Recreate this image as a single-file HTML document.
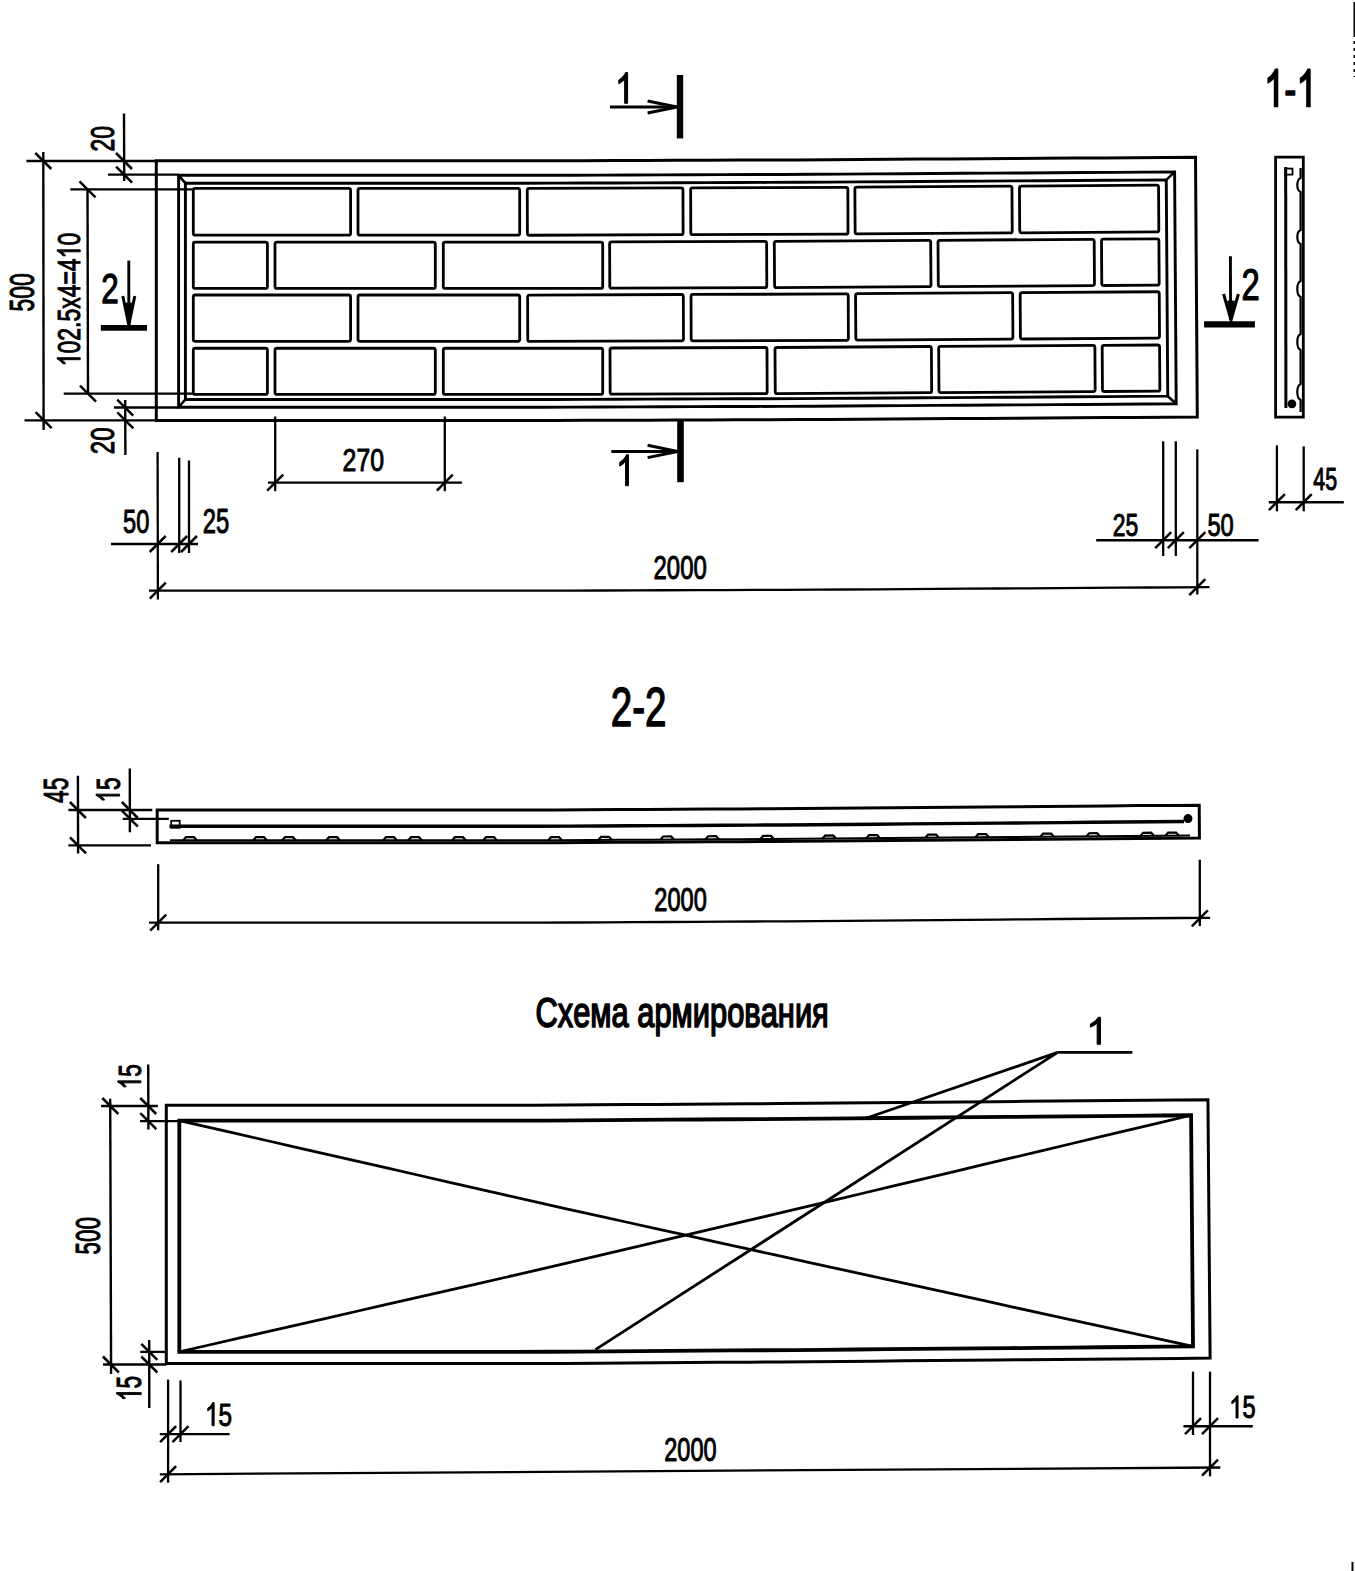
<!DOCTYPE html>
<html><head><meta charset="utf-8"><style>
html,body{margin:0;padding:0;background:#fff;}
svg{display:block;}
text{font-family:"Liberation Sans",sans-serif;fill:#000;}
</style></head><body>
<svg width="1355" height="1571" viewBox="0 0 1355 1571" stroke="#000" fill="none">
<rect x="0" y="0" width="1355" height="1571" fill="#fff" stroke="none"/>
<path d="M156.30,160.80 L186.89,160.80 L217.48,160.80 L248.07,160.80 L278.66,160.80 L309.26,160.80 L339.85,160.80 L370.44,160.80 L401.03,160.80 L431.62,160.80 L462.21,160.80 L492.80,160.80 L523.39,160.80 L553.54,160.75 L584.13,160.65 L614.72,160.54 L645.31,160.43 L675.90,160.33 L706.49,160.22 L737.09,160.12 L767.68,160.01 L798.20,159.90 L828.46,159.71 L859.05,159.51 L889.64,159.31 L920.23,159.10 L950.82,158.90 L981.41,158.70 L1012.00,158.50 L1042.60,158.30 L1073.19,158.10 L1103.78,157.90 L1134.35,157.70 L1164.93,157.49 L1195.52,157.28 L1195.74,189.74 L1195.96,222.21 L1196.18,254.67 L1196.40,287.13 L1196.63,319.59 L1196.85,352.06 L1197.07,384.52 L1197.29,416.98 L1166.70,417.19 L1136.09,417.40 L1105.48,417.60 L1074.89,417.80 L1044.30,418.00 L1013.71,418.20 L983.12,418.40 L952.53,418.60 L921.94,418.80 L891.35,419.01 L860.75,419.21 L830.16,419.41 L799.24,419.60 L768.58,419.71 L737.98,419.82 L707.39,419.92 L676.80,420.03 L646.21,420.13 L615.62,420.24 L585.03,420.35 L554.44,420.45 L523.39,420.50 L492.80,420.50 L462.21,420.50 L431.62,420.50 L401.03,420.50 L370.44,420.50 L339.85,420.50 L309.26,420.50 L278.66,420.50 L248.07,420.50 L217.48,420.50 L186.89,420.50 L156.30,420.50 L156.30,388.04 L156.30,355.57 L156.30,323.11 L156.30,290.65 L156.30,258.19 L156.30,225.73 L156.30,193.26 Z" stroke-width="3.0" fill="none" stroke-linejoin="miter"/>
<path d="M178.60,175.30 L208.81,175.30 L239.01,175.30 L269.22,175.30 L299.42,175.30 L329.63,175.30 L359.84,175.30 L390.04,175.30 L420.25,175.30 L450.45,175.30 L480.66,175.30 L510.87,175.30 L540.77,175.30 L570.88,175.19 L601.09,175.09 L631.29,174.98 L661.50,174.88 L691.71,174.77 L721.91,174.67 L752.12,174.56 L782.32,174.46 L812.17,174.32 L842.38,174.12 L872.59,173.92 L902.79,173.72 L933.00,173.52 L963.20,173.32 L993.41,173.12 L1023.62,172.93 L1053.82,172.73 L1084.03,172.53 L1114.23,172.33 L1144.41,172.13 L1174.62,171.92 L1174.84,205.05 L1175.07,238.18 L1175.30,271.31 L1175.52,304.44 L1175.75,337.57 L1175.97,370.70 L1176.20,403.82 L1145.99,404.03 L1115.76,404.23 L1085.55,404.43 L1055.35,404.63 L1025.14,404.83 L994.93,405.02 L964.73,405.22 L934.52,405.42 L904.32,405.62 L874.11,405.82 L843.90,406.02 L813.70,406.22 L783.13,406.36 L752.92,406.46 L722.71,406.57 L692.51,406.67 L662.30,406.78 L632.10,406.88 L601.89,406.99 L571.68,407.09 L541.38,407.20 L510.87,407.20 L480.66,407.20 L450.45,407.20 L420.25,407.20 L390.04,407.20 L359.84,407.20 L329.63,407.20 L299.42,407.20 L269.22,407.20 L239.01,407.20 L208.81,407.20 L178.60,407.20 L178.60,374.07 L178.60,340.94 L178.60,307.81 L178.60,274.69 L178.60,241.56 L178.60,208.43 Z" stroke-width="2.9" fill="none" stroke-linejoin="miter"/>
<path d="M185.40,183.20 L216.08,183.20 L246.75,183.20 L277.43,183.20 L308.10,183.20 L338.77,183.20 L369.45,183.20 L400.12,183.20 L430.80,183.20 L461.48,183.20 L492.15,183.20 L522.83,183.20 L553.13,183.15 L583.81,183.05 L614.48,182.94 L645.16,182.83 L675.83,182.73 L706.51,182.62 L737.18,182.52 L767.86,182.41 L798.46,182.30 L828.87,182.11 L859.55,181.90 L890.22,181.70 L920.90,181.50 L951.57,181.30 L982.25,181.10 L1012.92,180.90 L1043.60,180.70 L1074.27,180.49 L1104.95,180.29 L1135.60,180.09 L1166.27,179.88 L1166.48,210.78 L1166.69,241.68 L1166.90,272.58 L1167.11,303.48 L1167.33,334.38 L1167.54,365.28 L1167.75,396.18 L1137.07,396.39 L1106.37,396.59 L1075.69,396.79 L1045.02,397.00 L1014.34,397.20 L983.67,397.40 L952.99,397.60 L922.32,397.80 L891.64,398.00 L860.97,398.20 L830.29,398.41 L799.36,398.60 L768.60,398.71 L737.93,398.82 L707.25,398.92 L676.58,399.03 L645.90,399.13 L615.23,399.24 L584.55,399.35 L553.88,399.45 L522.82,399.50 L492.15,399.50 L461.48,399.50 L430.80,399.50 L400.12,399.50 L369.45,399.50 L338.77,399.50 L308.10,399.50 L277.42,399.50 L246.75,399.50 L216.07,399.50 L185.40,399.50 L185.40,368.60 L185.40,337.70 L185.40,306.80 L185.40,275.90 L185.40,245.00 L185.40,214.10 Z" stroke-width="2.9" fill="none" stroke-linejoin="miter"/>
<path d="M178.60,175.30 L185.40,183.20" stroke-width="2.6" stroke-linecap="butt"/>
<path d="M1174.62,171.92 L1166.27,179.88" stroke-width="2.6" stroke-linecap="butt"/>
<path d="M178.60,407.20 L185.40,399.50" stroke-width="2.6" stroke-linecap="butt"/>
<path d="M1176.20,403.82 L1167.75,396.18" stroke-width="2.6" stroke-linecap="butt"/>
<rect x="193.30" y="188.40" width="157.30" height="46.80" rx="2.0" stroke-width="2.8" fill="none" transform="translate(0.00,0.00) rotate(0.000 271.95 211.80)"/>
<rect x="358.00" y="188.40" width="161.70" height="46.80" rx="2.0" stroke-width="2.8" fill="none" transform="translate(0.00,0.00) rotate(0.000 438.85 211.80)"/>
<rect x="527.60" y="188.40" width="155.70" height="46.80" rx="2.0" stroke-width="2.8" fill="none" transform="translate(-0.27,-0.23) rotate(-0.198 605.45 211.80)"/>
<rect x="691.00" y="188.40" width="157.20" height="46.80" rx="2.0" stroke-width="2.8" fill="none" transform="translate(-0.27,-0.79) rotate(-0.198 769.60 211.80)"/>
<rect x="855.50" y="188.40" width="157.10" height="46.80" rx="2.0" stroke-width="2.8" fill="none" transform="translate(-0.51,-1.78) rotate(-0.376 934.05 211.80)"/>
<rect x="1020.10" y="188.40" width="139.10" height="46.80" rx="2.0" stroke-width="2.8" fill="none" transform="translate(-0.51,-2.80) rotate(-0.376 1089.65 211.80)"/>
<rect x="193.30" y="242.10" width="74.10" height="46.30" rx="2.0" stroke-width="2.8" fill="none" transform="translate(0.00,0.00) rotate(0.000 230.35 265.25)"/>
<rect x="275.00" y="242.10" width="160.30" height="46.30" rx="2.0" stroke-width="2.8" fill="none" transform="translate(0.00,0.00) rotate(0.000 355.15 265.25)"/>
<rect x="443.30" y="242.10" width="159.40" height="46.30" rx="2.0" stroke-width="2.8" fill="none" transform="translate(0.00,0.00) rotate(0.000 523.00 265.25)"/>
<rect x="609.80" y="242.10" width="157.00" height="46.30" rx="2.0" stroke-width="2.8" fill="none" transform="translate(-0.09,-0.51) rotate(-0.198 688.30 265.25)"/>
<rect x="774.60" y="242.10" width="156.40" height="46.30" rx="2.0" stroke-width="2.8" fill="none" transform="translate(-0.16,-1.25) rotate(-0.376 852.80 265.25)"/>
<rect x="938.30" y="242.10" width="156.20" height="46.30" rx="2.0" stroke-width="2.8" fill="none" transform="translate(-0.16,-2.32) rotate(-0.376 1016.40 265.25)"/>
<rect x="1101.80" y="242.10" width="57.40" height="46.30" rx="2.0" stroke-width="2.8" fill="none" transform="translate(-0.16,-3.07) rotate(-0.376 1130.50 265.25)"/>
<rect x="193.30" y="295.00" width="157.30" height="46.35" rx="2.0" stroke-width="2.8" fill="none" transform="translate(0.00,0.00) rotate(0.000 271.95 318.18)"/>
<rect x="358.00" y="295.00" width="161.70" height="46.35" rx="2.0" stroke-width="2.8" fill="none" transform="translate(0.00,0.00) rotate(0.000 438.85 318.18)"/>
<rect x="527.60" y="295.00" width="155.70" height="46.35" rx="2.0" stroke-width="2.8" fill="none" transform="translate(0.10,-0.23) rotate(-0.198 605.45 318.18)"/>
<rect x="691.00" y="295.00" width="157.20" height="46.35" rx="2.0" stroke-width="2.8" fill="none" transform="translate(0.10,-0.79) rotate(-0.198 769.60 318.18)"/>
<rect x="855.50" y="295.00" width="157.10" height="46.35" rx="2.0" stroke-width="2.8" fill="none" transform="translate(0.19,-1.78) rotate(-0.376 934.05 318.18)"/>
<rect x="1020.10" y="295.00" width="139.10" height="46.35" rx="2.0" stroke-width="2.8" fill="none" transform="translate(0.19,-2.80) rotate(-0.376 1089.65 318.18)"/>
<rect x="193.30" y="348.25" width="74.10" height="46.15" rx="2.0" stroke-width="2.8" fill="none" transform="translate(0.00,0.00) rotate(0.000 230.35 371.32)"/>
<rect x="275.00" y="348.25" width="160.30" height="46.15" rx="2.0" stroke-width="2.8" fill="none" transform="translate(0.00,0.00) rotate(0.000 355.15 371.32)"/>
<rect x="443.30" y="348.25" width="159.40" height="46.15" rx="2.0" stroke-width="2.8" fill="none" transform="translate(0.00,0.00) rotate(0.000 523.00 371.32)"/>
<rect x="609.80" y="348.25" width="157.00" height="46.15" rx="2.0" stroke-width="2.8" fill="none" transform="translate(0.28,-0.51) rotate(-0.198 688.30 371.32)"/>
<rect x="774.60" y="348.25" width="156.40" height="46.15" rx="2.0" stroke-width="2.8" fill="none" transform="translate(0.53,-1.25) rotate(-0.376 852.80 371.32)"/>
<rect x="938.30" y="348.25" width="156.20" height="46.15" rx="2.0" stroke-width="2.8" fill="none" transform="translate(0.53,-2.32) rotate(-0.376 1016.40 371.32)"/>
<rect x="1101.80" y="348.25" width="57.40" height="46.15" rx="2.0" stroke-width="2.8" fill="none" transform="translate(0.53,-3.07) rotate(-0.376 1130.50 371.32)"/>
<path d="M149.00,590.70 L179.24,590.70 L209.49,590.70 L239.73,590.70 L269.97,590.70 L300.21,590.70 L330.46,590.70 L360.70,590.70 L390.94,590.70 L421.19,590.70 L451.43,590.70 L481.67,590.70 L511.91,590.70 L543.20,590.69 L573.44,590.59 L603.68,590.48 L633.93,590.38 L664.17,590.27 L694.41,590.17 L724.66,590.06 L754.90,589.96 L785.14,589.86 L816.32,589.71 L846.56,589.51 L876.80,589.31 L907.05,589.11 L937.29,588.91 L967.53,588.71 L997.77,588.51 L1028.02,588.32 L1058.26,588.12 L1088.50,587.92 L1118.75,587.72 L1149.06,587.52 L1179.31,587.31 L1209.55,587.11" stroke-width="2.3" stroke-linecap="butt"/>
<line x1="43.30" y1="152.10" x2="43.60" y2="430.00" stroke-width="2.4" stroke-linecap="butt"/>
<line x1="26.40" y1="161.00" x2="156.00" y2="161.00" stroke-width="2.3" stroke-linecap="butt"/>
<line x1="24.50" y1="420.30" x2="156.00" y2="420.30" stroke-width="2.3" stroke-linecap="butt"/>
<line x1="35.30" y1="153.00" x2="51.30" y2="169.00" stroke-width="2.5" stroke-linecap="butt"/>
<line x1="35.60" y1="412.20" x2="51.60" y2="428.20" stroke-width="2.5" stroke-linecap="butt"/>
<g transform="translate(33.51,311.46) rotate(-90) scale(0.2281,0.3423)"><text x="0.00" y="0" font-size="100" font-weight="normal" stroke="#000" stroke-width="0.9" vector-effect="non-scaling-stroke" stroke-linejoin="round">5</text><text x="55.62" y="0" font-size="100" font-weight="normal" stroke="#000" stroke-width="0.9" vector-effect="non-scaling-stroke" stroke-linejoin="round">0</text><text x="111.23" y="0" font-size="100" font-weight="normal" stroke="#000" stroke-width="0.9" vector-effect="non-scaling-stroke" stroke-linejoin="round">0</text></g>
<line x1="87.50" y1="189.30" x2="88.00" y2="393.60" stroke-width="2.4" stroke-linecap="butt"/>
<line x1="70.30" y1="189.30" x2="193.00" y2="189.30" stroke-width="2.3" stroke-linecap="butt"/>
<line x1="63.70" y1="393.60" x2="193.00" y2="393.60" stroke-width="2.3" stroke-linecap="butt"/>
<line x1="79.50" y1="181.30" x2="95.50" y2="197.30" stroke-width="2.5" stroke-linecap="butt"/>
<line x1="80.00" y1="385.60" x2="96.00" y2="401.60" stroke-width="2.5" stroke-linecap="butt"/>
<g transform="translate(80.23,366.25) rotate(-90) scale(0.2296,0.3214)"><path transform="translate(0.00,0)" d="M37.3,0 L28.5,0 L28.5,-56.2 C25.5,-53.4 21.4,-50.5 17,-48.3 C14.6,-47.1 12.6,-46.2 10.9,-45.6 L10.9,-54.2 C15.6,-56.4 19.8,-59.2 23.4,-62.5 C27,-65.7 29.6,-68.8 31.1,-71.8 L37.3,-71.8 Z" fill="#000" stroke="#000" stroke-width="0.9" vector-effect="non-scaling-stroke" stroke-linejoin="round"/><text x="55.62" y="0" font-size="100" font-weight="normal" stroke="#000" stroke-width="0.9" vector-effect="non-scaling-stroke" stroke-linejoin="round">0</text><text x="111.23" y="0" font-size="100" font-weight="normal" stroke="#000" stroke-width="0.9" vector-effect="non-scaling-stroke" stroke-linejoin="round">2</text><text x="166.85" y="0" font-size="100" font-weight="normal" stroke="#000" stroke-width="0.9" vector-effect="non-scaling-stroke" stroke-linejoin="round">.</text><text x="194.63" y="0" font-size="100" font-weight="normal" stroke="#000" stroke-width="0.9" vector-effect="non-scaling-stroke" stroke-linejoin="round">5</text><text x="250.25" y="0" font-size="100" font-weight="normal" stroke="#000" stroke-width="0.9" vector-effect="non-scaling-stroke" stroke-linejoin="round">x</text><text x="300.25" y="0" font-size="100" font-weight="normal" stroke="#000" stroke-width="0.9" vector-effect="non-scaling-stroke" stroke-linejoin="round">4</text><text x="355.87" y="0" font-size="100" font-weight="normal" stroke="#000" stroke-width="0.9" vector-effect="non-scaling-stroke" stroke-linejoin="round">=</text><text x="414.27" y="0" font-size="100" font-weight="normal" stroke="#000" stroke-width="0.9" vector-effect="non-scaling-stroke" stroke-linejoin="round">4</text><path transform="translate(469.88,0)" d="M37.3,0 L28.5,0 L28.5,-56.2 C25.5,-53.4 21.4,-50.5 17,-48.3 C14.6,-47.1 12.6,-46.2 10.9,-45.6 L10.9,-54.2 C15.6,-56.4 19.8,-59.2 23.4,-62.5 C27,-65.7 29.6,-68.8 31.1,-71.8 L37.3,-71.8 Z" fill="#000" stroke="#000" stroke-width="0.9" vector-effect="non-scaling-stroke" stroke-linejoin="round"/><text x="525.50" y="0" font-size="100" font-weight="normal" stroke="#000" stroke-width="0.9" vector-effect="non-scaling-stroke" stroke-linejoin="round">0</text></g>
<line x1="124.00" y1="113.60" x2="124.20" y2="181.00" stroke-width="2.4" stroke-linecap="butt"/>
<line x1="108.00" y1="174.60" x2="178.60" y2="174.60" stroke-width="2.3" stroke-linecap="butt"/>
<line x1="116.00" y1="153.00" x2="132.00" y2="169.00" stroke-width="2.5" stroke-linecap="butt"/>
<line x1="116.10" y1="166.60" x2="132.10" y2="182.60" stroke-width="2.5" stroke-linecap="butt"/>
<g transform="translate(113.71,151.49) rotate(-90) scale(0.2282,0.3366)"><text x="0.00" y="0" font-size="100" font-weight="normal" stroke="#000" stroke-width="0.9" vector-effect="non-scaling-stroke" stroke-linejoin="round">2</text><text x="55.62" y="0" font-size="100" font-weight="normal" stroke="#000" stroke-width="0.9" vector-effect="non-scaling-stroke" stroke-linejoin="round">0</text></g>
<line x1="125.20" y1="400.00" x2="125.40" y2="455.00" stroke-width="2.4" stroke-linecap="butt"/>
<line x1="114.00" y1="407.50" x2="178.60" y2="407.50" stroke-width="2.3" stroke-linecap="butt"/>
<line x1="117.20" y1="399.60" x2="133.20" y2="415.60" stroke-width="2.5" stroke-linecap="butt"/>
<line x1="117.30" y1="412.30" x2="133.30" y2="428.30" stroke-width="2.5" stroke-linecap="butt"/>
<g transform="translate(114.21,454.25) rotate(-90) scale(0.2409,0.3394)"><text x="0.00" y="0" font-size="100" font-weight="normal" stroke="#000" stroke-width="0.9" vector-effect="non-scaling-stroke" stroke-linejoin="round">2</text><text x="55.62" y="0" font-size="100" font-weight="normal" stroke="#000" stroke-width="0.9" vector-effect="non-scaling-stroke" stroke-linejoin="round">0</text></g>
<g transform="translate(101.18,303.45) scale(0.3143,0.4343)"><text x="0.00" y="0" font-size="100" font-weight="normal" stroke="#000" stroke-width="1.1" vector-effect="non-scaling-stroke" stroke-linejoin="round">2</text></g>
<line x1="128.80" y1="260.60" x2="128.80" y2="326.00" stroke-width="2.9" stroke-linecap="butt"/>
<path d="M122.80,296.00 L128.80,325.00 L134.80,296.00" stroke-width="3.0" fill="none" stroke-linejoin="miter"/>
<path d="M125.5,303 L128.8,321 L132,303 Z" stroke-width="0.8" fill="#000"/>
<line x1="100.80" y1="327.80" x2="147.00" y2="327.80" stroke-width="5.8" stroke-linecap="butt"/>
<g transform="translate(1241.41,300.25) scale(0.3275,0.4400)"><text x="0.00" y="0" font-size="100" font-weight="normal" stroke="#000" stroke-width="1.1" vector-effect="non-scaling-stroke" stroke-linejoin="round">2</text></g>
<line x1="1230.40" y1="256.20" x2="1230.60" y2="320.00" stroke-width="2.9" stroke-linecap="butt"/>
<path d="M1223.60,294.00 L1231.00,320.00 L1238.40,294.00" stroke-width="3.0" fill="none" stroke-linejoin="miter"/>
<path d="M1227.5,301 L1231,317 L1234.5,301 Z" stroke-width="0.8" fill="#000"/>
<line x1="1204.10" y1="324.40" x2="1254.90" y2="324.40" stroke-width="6.4" stroke-linecap="butt"/>
<g transform="translate(615.17,103.30) scale(0.3333,0.4290)"><path transform="translate(0.00,0)" d="M37.3,0 L28.5,0 L28.5,-56.2 C25.5,-53.4 21.4,-50.5 17,-48.3 C14.6,-47.1 12.6,-46.2 10.9,-45.6 L10.9,-54.2 C15.6,-56.4 19.8,-59.2 23.4,-62.5 C27,-65.7 29.6,-68.8 31.1,-71.8 L37.3,-71.8 Z" fill="#000" stroke="#000" stroke-width="1.0" vector-effect="non-scaling-stroke" stroke-linejoin="round"/></g>
<line x1="610.00" y1="107.00" x2="678.00" y2="107.00" stroke-width="2.8" stroke-linecap="butt"/>
<path d="M647.60,101.00 L677.00,107.00 L647.60,113.00" stroke-width="3.0" fill="none" stroke-linejoin="miter"/>
<line x1="680.00" y1="75.00" x2="680.00" y2="138.40" stroke-width="6.4" stroke-linecap="butt"/>
<g transform="translate(616.07,485.70) scale(0.3333,0.4304)"><path transform="translate(0.00,0)" d="M37.3,0 L28.5,0 L28.5,-56.2 C25.5,-53.4 21.4,-50.5 17,-48.3 C14.6,-47.1 12.6,-46.2 10.9,-45.6 L10.9,-54.2 C15.6,-56.4 19.8,-59.2 23.4,-62.5 C27,-65.7 29.6,-68.8 31.1,-71.8 L37.3,-71.8 Z" fill="#000" stroke="#000" stroke-width="1.0" vector-effect="non-scaling-stroke" stroke-linejoin="round"/></g>
<line x1="611.30" y1="451.50" x2="678.00" y2="451.50" stroke-width="2.8" stroke-linecap="butt"/>
<path d="M647.60,445.20 L677.50,451.50 L647.60,457.60" stroke-width="3.0" fill="none" stroke-linejoin="miter"/>
<line x1="680.50" y1="420.60" x2="680.50" y2="482.20" stroke-width="6.6" stroke-linecap="butt"/>
<g transform="translate(1264.08,106.65) scale(0.3642,0.5223)"><path transform="translate(0.00,0)" d="M37.3,0 L28.5,0 L28.5,-56.2 C25.5,-53.4 21.4,-50.5 17,-48.3 C14.6,-47.1 12.6,-46.2 10.9,-45.6 L10.9,-54.2 C15.6,-56.4 19.8,-59.2 23.4,-62.5 C27,-65.7 29.6,-68.8 31.1,-71.8 L37.3,-71.8 Z" fill="#000" stroke="#000" stroke-width="1.3" vector-effect="non-scaling-stroke" stroke-linejoin="round"/><text x="55.62" y="0" font-size="100" font-weight="normal" stroke="#000" stroke-width="1.3" vector-effect="non-scaling-stroke" stroke-linejoin="round">-</text><path transform="translate(88.92,0)" d="M37.3,0 L28.5,0 L28.5,-56.2 C25.5,-53.4 21.4,-50.5 17,-48.3 C14.6,-47.1 12.6,-46.2 10.9,-45.6 L10.9,-54.2 C15.6,-56.4 19.8,-59.2 23.4,-62.5 C27,-65.7 29.6,-68.8 31.1,-71.8 L37.3,-71.8 Z" fill="#000" stroke="#000" stroke-width="1.3" vector-effect="non-scaling-stroke" stroke-linejoin="round"/></g>
<path d="M1275.60,157.20 L1303.30,157.20 L1303.30,417.10 L1275.60,417.10 Z" stroke-width="2.8" fill="none" stroke-linejoin="miter"/>
<line x1="1285.70" y1="167.00" x2="1285.90" y2="408.00" stroke-width="3.0" stroke-linecap="butt"/>
<rect x="1285.5" y="168.6" width="7" height="6" stroke-width="1.8" fill="none"/>
<circle cx="1291.9" cy="403.8" r="3.6" stroke-width="1.6" fill="#000"/>
<path d="M1300.6,168 L1300.6,178 C1296.2,180 1296.2,190 1300.6,192 L1300.6,230 C1296.2,232 1296.2,242 1300.6,244 L1300.6,281 C1296.2,283 1296.2,295 1300.6,297 L1300.6,334 C1296.2,336 1296.2,348 1300.6,350 L1300.6,384 C1296.2,386 1296.2,398 1300.6,400 L1300.6,412" stroke-width="2.2" fill="none"/>
<line x1="275.20" y1="416.50" x2="275.20" y2="491.20" stroke-width="2.3" stroke-linecap="butt"/>
<line x1="444.80" y1="416.50" x2="444.80" y2="491.20" stroke-width="2.3" stroke-linecap="butt"/>
<line x1="267.90" y1="482.60" x2="461.90" y2="482.60" stroke-width="2.4" stroke-linecap="butt"/>
<line x1="267.20" y1="490.60" x2="283.20" y2="474.60" stroke-width="2.5" stroke-linecap="butt"/>
<line x1="436.80" y1="490.60" x2="452.80" y2="474.60" stroke-width="2.5" stroke-linecap="butt"/>
<g transform="translate(342.61,470.93) scale(0.2485,0.3183)"><text x="0.00" y="0" font-size="100" font-weight="normal" stroke="#000" stroke-width="0.9" vector-effect="non-scaling-stroke" stroke-linejoin="round">2</text><text x="55.62" y="0" font-size="100" font-weight="normal" stroke="#000" stroke-width="0.9" vector-effect="non-scaling-stroke" stroke-linejoin="round">7</text><text x="111.23" y="0" font-size="100" font-weight="normal" stroke="#000" stroke-width="0.9" vector-effect="non-scaling-stroke" stroke-linejoin="round">0</text></g>
<line x1="157.60" y1="452.00" x2="157.90" y2="599.50" stroke-width="2.3" stroke-linecap="butt"/>
<line x1="179.20" y1="457.70" x2="179.20" y2="553.00" stroke-width="2.3" stroke-linecap="butt"/>
<line x1="189.00" y1="460.50" x2="189.00" y2="553.00" stroke-width="2.3" stroke-linecap="butt"/>
<line x1="111.00" y1="544.00" x2="198.00" y2="544.00" stroke-width="2.4" stroke-linecap="butt"/>
<line x1="149.70" y1="552.00" x2="165.70" y2="536.00" stroke-width="2.5" stroke-linecap="butt"/>
<line x1="171.20" y1="552.00" x2="187.20" y2="536.00" stroke-width="2.5" stroke-linecap="butt"/>
<line x1="181.00" y1="552.00" x2="197.00" y2="536.00" stroke-width="2.5" stroke-linecap="butt"/>
<g transform="translate(123.10,532.63) scale(0.2366,0.3239)"><text x="0.00" y="0" font-size="100" font-weight="normal" stroke="#000" stroke-width="0.9" vector-effect="non-scaling-stroke" stroke-linejoin="round">5</text><text x="55.62" y="0" font-size="100" font-weight="normal" stroke="#000" stroke-width="0.9" vector-effect="non-scaling-stroke" stroke-linejoin="round">0</text></g>
<g transform="translate(202.86,532.60) scale(0.2380,0.3451)"><text x="0.00" y="0" font-size="100" font-weight="normal" stroke="#000" stroke-width="0.9" vector-effect="non-scaling-stroke" stroke-linejoin="round">2</text><text x="55.62" y="0" font-size="100" font-weight="normal" stroke="#000" stroke-width="0.9" vector-effect="non-scaling-stroke" stroke-linejoin="round">5</text></g>
<line x1="1163.20" y1="441.30" x2="1163.20" y2="556.00" stroke-width="2.3" stroke-linecap="butt"/>
<line x1="1175.80" y1="441.30" x2="1175.80" y2="556.00" stroke-width="2.3" stroke-linecap="butt"/>
<line x1="1197.30" y1="449.40" x2="1197.30" y2="594.50" stroke-width="2.3" stroke-linecap="butt"/>
<line x1="1096.20" y1="540.20" x2="1258.60" y2="540.20" stroke-width="2.4" stroke-linecap="butt"/>
<line x1="1155.20" y1="548.20" x2="1171.20" y2="532.20" stroke-width="2.5" stroke-linecap="butt"/>
<line x1="1167.80" y1="548.20" x2="1183.80" y2="532.20" stroke-width="2.5" stroke-linecap="butt"/>
<line x1="1189.30" y1="548.20" x2="1205.30" y2="532.20" stroke-width="2.5" stroke-linecap="butt"/>
<g transform="translate(1112.80,535.93) scale(0.2291,0.3155)"><text x="0.00" y="0" font-size="100" font-weight="normal" stroke="#000" stroke-width="0.9" vector-effect="non-scaling-stroke" stroke-linejoin="round">2</text><text x="55.62" y="0" font-size="100" font-weight="normal" stroke="#000" stroke-width="0.9" vector-effect="non-scaling-stroke" stroke-linejoin="round">5</text></g>
<g transform="translate(1207.40,535.93) scale(0.2366,0.3155)"><text x="0.00" y="0" font-size="100" font-weight="normal" stroke="#000" stroke-width="0.9" vector-effect="non-scaling-stroke" stroke-linejoin="round">5</text><text x="55.62" y="0" font-size="100" font-weight="normal" stroke="#000" stroke-width="0.9" vector-effect="non-scaling-stroke" stroke-linejoin="round">0</text></g>
<line x1="149.80" y1="598.60" x2="165.80" y2="582.60" stroke-width="2.5" stroke-linecap="butt"/>
<line x1="1189.30" y1="595.20" x2="1205.30" y2="579.20" stroke-width="2.5" stroke-linecap="butt"/>
<g transform="translate(653.55,578.82) scale(0.2395,0.3282)"><text x="0.00" y="0" font-size="100" font-weight="normal" stroke="#000" stroke-width="0.9" vector-effect="non-scaling-stroke" stroke-linejoin="round">2</text><text x="55.62" y="0" font-size="100" font-weight="normal" stroke="#000" stroke-width="0.9" vector-effect="non-scaling-stroke" stroke-linejoin="round">0</text><text x="111.23" y="0" font-size="100" font-weight="normal" stroke="#000" stroke-width="0.9" vector-effect="non-scaling-stroke" stroke-linejoin="round">0</text><text x="166.85" y="0" font-size="100" font-weight="normal" stroke="#000" stroke-width="0.9" vector-effect="non-scaling-stroke" stroke-linejoin="round">0</text></g>
<line x1="1276.90" y1="445.40" x2="1276.90" y2="511.30" stroke-width="2.3" stroke-linecap="butt"/>
<line x1="1303.70" y1="446.40" x2="1303.70" y2="511.30" stroke-width="2.3" stroke-linecap="butt"/>
<line x1="1268.80" y1="502.20" x2="1343.80" y2="502.20" stroke-width="2.4" stroke-linecap="butt"/>
<line x1="1268.90" y1="510.20" x2="1284.90" y2="494.20" stroke-width="2.5" stroke-linecap="butt"/>
<line x1="1295.70" y1="510.20" x2="1311.70" y2="494.20" stroke-width="2.5" stroke-linecap="butt"/>
<g transform="translate(1313.31,490.24) scale(0.2141,0.3057)"><text x="0.00" y="0" font-size="100" font-weight="normal" stroke="#000" stroke-width="0.9" vector-effect="non-scaling-stroke" stroke-linejoin="round">4</text><text x="55.62" y="0" font-size="100" font-weight="normal" stroke="#000" stroke-width="0.9" vector-effect="non-scaling-stroke" stroke-linejoin="round">5</text></g>
<g transform="translate(610.72,726.15) scale(0.3861,0.5643)"><text x="0.00" y="0" font-size="100" font-weight="normal" stroke="#000" stroke-width="1.3" vector-effect="non-scaling-stroke" stroke-linejoin="round">2</text><text x="55.62" y="0" font-size="100" font-weight="normal" stroke="#000" stroke-width="1.3" vector-effect="non-scaling-stroke" stroke-linejoin="round">-</text><text x="88.92" y="0" font-size="100" font-weight="normal" stroke="#000" stroke-width="1.3" vector-effect="non-scaling-stroke" stroke-linejoin="round">2</text></g>
<path d="M157.20,810.00 L187.85,810.00 L218.50,810.00 L249.15,810.00 L279.80,810.00 L310.45,810.00 L341.10,810.00 L371.75,810.00 L402.40,810.00 L433.05,810.00 L463.70,810.00 L494.35,810.00 L525.00,810.00 L555.57,809.91 L586.22,809.74 L616.87,809.57 L647.52,809.40 L678.17,809.23 L708.82,809.06 L739.47,808.89 L770.12,808.72 L800.74,808.54 L831.38,808.28 L862.03,808.01 L892.68,807.74 L923.33,807.48 L953.98,807.21 L984.63,806.95 L1015.28,806.68 L1045.93,806.42 L1076.58,806.15 L1107.23,805.88 L1137.88,805.62 L1168.55,805.39 L1199.20,805.16 L1199.44,837.96 L1168.79,838.19 L1138.16,838.42 L1107.51,838.68 L1076.86,838.95 L1046.21,839.22 L1015.56,839.48 L984.91,839.75 L954.26,840.01 L923.61,840.28 L892.96,840.54 L862.31,840.81 L831.66,841.08 L801.00,841.34 L770.30,841.52 L739.65,841.69 L709.00,841.86 L678.35,842.03 L647.70,842.20 L617.05,842.37 L586.40,842.54 L555.75,842.71 L525.00,842.80 L494.35,842.80 L463.70,842.80 L433.05,842.80 L402.40,842.80 L371.75,842.80 L341.10,842.80 L310.45,842.80 L279.80,842.80 L249.15,842.80 L218.50,842.80 L187.85,842.80 L157.20,842.80 Z" stroke-width="3.0" fill="none" stroke-linejoin="miter"/>
<path d="M169.50,826.30 L200.24,826.30 L230.98,826.30 L261.73,826.30 L292.47,826.30 L323.21,826.30 L353.95,826.30 L384.70,826.30 L415.44,826.30 L446.18,826.30 L476.92,826.30 L507.67,826.30 L538.41,826.30 L569.16,826.14 L599.91,825.97 L630.65,825.79 L661.39,825.62 L692.13,825.45 L722.88,825.28 L753.62,825.11 L784.36,824.94 L815.11,824.72 L845.85,824.45 L876.60,824.19 L907.34,823.92 L938.08,823.65 L968.82,823.39 L999.57,823.12 L1030.31,822.85 L1061.05,822.59 L1091.79,822.32 L1122.54,822.05 L1153.27,821.80 L1184.02,821.57" stroke-width="3.4" stroke-linecap="butt"/>
<rect x="171.2" y="820.8" width="8.5" height="7" stroke-width="1.8" fill="none"/>
<circle cx="1188" cy="818.6" r="3.8" stroke-width="1.4" fill="#000"/>
<path d="M183.00,840.60 L186.00,837.20 L194.00,837.20 L197.00,840.60" stroke-width="2.2" fill="none" stroke-linejoin="miter"/>
<path d="M253.00,840.60 L256.00,837.20 L264.00,837.20 L267.00,840.60" stroke-width="2.2" fill="none" stroke-linejoin="miter"/>
<path d="M282.00,840.60 L285.00,837.20 L293.00,837.20 L296.00,840.60" stroke-width="2.2" fill="none" stroke-linejoin="miter"/>
<path d="M326.00,840.60 L329.00,837.20 L337.00,837.20 L340.00,840.60" stroke-width="2.2" fill="none" stroke-linejoin="miter"/>
<path d="M383.00,840.60 L386.00,837.20 L394.00,837.20 L397.00,840.60" stroke-width="2.2" fill="none" stroke-linejoin="miter"/>
<path d="M408.00,840.60 L411.00,837.20 L419.00,837.20 L422.00,840.60" stroke-width="2.2" fill="none" stroke-linejoin="miter"/>
<path d="M452.00,840.60 L455.00,837.20 L463.00,837.20 L466.00,840.60" stroke-width="2.2" fill="none" stroke-linejoin="miter"/>
<path d="M483.00,840.60 L486.00,837.20 L494.00,837.20 L497.00,840.60" stroke-width="2.2" fill="none" stroke-linejoin="miter"/>
<path d="M548.09,840.56 L551.07,837.14 L559.07,837.09 L562.09,840.48" stroke-width="2.2" fill="none" stroke-linejoin="miter"/>
<path d="M598.09,840.28 L601.07,836.86 L609.07,836.82 L612.09,840.20" stroke-width="2.2" fill="none" stroke-linejoin="miter"/>
<path d="M660.09,839.93 L663.07,836.51 L671.07,836.47 L674.09,839.85" stroke-width="2.2" fill="none" stroke-linejoin="miter"/>
<path d="M705.09,839.68 L708.07,836.26 L716.07,836.22 L719.09,839.60" stroke-width="2.2" fill="none" stroke-linejoin="miter"/>
<path d="M760.09,839.37 L763.07,835.96 L771.07,835.91 L774.09,839.30" stroke-width="2.2" fill="none" stroke-linejoin="miter"/>
<path d="M822.14,838.96 L825.11,835.53 L833.11,835.46 L836.14,838.84" stroke-width="2.2" fill="none" stroke-linejoin="miter"/>
<path d="M866.14,838.58 L869.11,835.15 L877.11,835.08 L880.14,838.46" stroke-width="2.2" fill="none" stroke-linejoin="miter"/>
<path d="M925.14,838.07 L928.11,834.64 L936.11,834.57 L939.14,837.94" stroke-width="2.2" fill="none" stroke-linejoin="miter"/>
<path d="M975.14,837.63 L978.11,834.21 L986.11,834.14 L989.14,837.51" stroke-width="2.2" fill="none" stroke-linejoin="miter"/>
<path d="M1040.14,837.07 L1043.11,833.64 L1051.11,833.57 L1054.14,836.95" stroke-width="2.2" fill="none" stroke-linejoin="miter"/>
<path d="M1086.14,836.67 L1089.11,833.24 L1097.11,833.17 L1100.14,836.55" stroke-width="2.2" fill="none" stroke-linejoin="miter"/>
<path d="M1140.13,836.20 L1143.10,832.78 L1151.10,832.72 L1154.12,836.10" stroke-width="2.2" fill="none" stroke-linejoin="miter"/>
<path d="M1165.12,836.01 L1168.10,832.59 L1176.10,832.53 L1179.12,835.91" stroke-width="2.2" fill="none" stroke-linejoin="miter"/>
<path d="M170.00,840.30 L200.00,840.30 L230.00,840.30 L260.00,840.30 L290.00,840.30 L320.00,840.30 L350.00,840.30 L380.00,840.30 L410.00,840.30 L440.00,840.30 L470.00,840.30 L500.00,840.30 L530.00,840.30 L560.09,840.19 L590.09,840.02 L620.09,839.85 L650.09,839.69 L680.09,839.52 L710.09,839.35 L740.09,839.18 L770.09,839.02 L800.12,838.85 L830.14,838.59 L860.14,838.33 L890.14,838.07 L920.14,837.81 L950.14,837.55 L980.14,837.29 L1010.14,837.03 L1040.14,836.77 L1070.14,836.51 L1100.14,836.25 L1130.14,835.99 L1160.12,835.75 L1190.12,835.53" stroke-width="2.0" stroke-linecap="butt"/>
<path d="M149.00,922.70 L179.30,922.70 L209.59,922.70 L239.89,922.70 L270.19,922.70 L300.49,922.70 L330.78,922.70 L361.08,922.70 L391.38,922.70 L421.67,922.70 L451.97,922.70 L482.27,922.70 L512.57,922.70 L543.41,922.68 L573.71,922.52 L604.01,922.35 L634.30,922.18 L664.60,922.01 L694.90,921.84 L725.20,921.67 L755.49,921.50 L785.79,921.33 L816.39,921.12 L846.69,920.85 L876.99,920.59 L907.28,920.33 L937.58,920.06 L967.88,919.80 L998.18,919.54 L1028.47,919.28 L1058.77,919.01 L1089.07,918.75 L1119.36,918.49 L1149.54,918.23 L1179.84,918.01 L1210.13,917.78" stroke-width="2.3" stroke-linecap="butt"/>
<line x1="77.90" y1="775.70" x2="78.10" y2="853.60" stroke-width="2.4" stroke-linecap="butt"/>
<line x1="68.40" y1="810.00" x2="152.30" y2="810.00" stroke-width="2.3" stroke-linecap="butt"/>
<line x1="68.40" y1="845.30" x2="151.00" y2="845.30" stroke-width="2.3" stroke-linecap="butt"/>
<line x1="69.90" y1="802.00" x2="85.90" y2="818.00" stroke-width="2.5" stroke-linecap="butt"/>
<line x1="70.00" y1="837.30" x2="86.00" y2="853.30" stroke-width="2.5" stroke-linecap="butt"/>
<g transform="translate(67.59,802.92) rotate(-90) scale(0.2285,0.3586)"><text x="0.00" y="0" font-size="100" font-weight="normal" stroke="#000" stroke-width="0.9" vector-effect="non-scaling-stroke" stroke-linejoin="round">4</text><text x="55.62" y="0" font-size="100" font-weight="normal" stroke="#000" stroke-width="0.9" vector-effect="non-scaling-stroke" stroke-linejoin="round">5</text></g>
<line x1="129.80" y1="768.60" x2="129.90" y2="832.30" stroke-width="2.4" stroke-linecap="butt"/>
<line x1="122.70" y1="818.90" x2="168.80" y2="818.90" stroke-width="2.3" stroke-linecap="butt"/>
<line x1="121.80" y1="802.00" x2="137.80" y2="818.00" stroke-width="2.5" stroke-linecap="butt"/>
<line x1="121.90" y1="810.60" x2="137.90" y2="826.60" stroke-width="2.5" stroke-linecap="butt"/>
<g transform="translate(119.62,802.50) rotate(-90) scale(0.2245,0.3283)"><path transform="translate(0.00,0)" d="M37.3,0 L28.5,0 L28.5,-56.2 C25.5,-53.4 21.4,-50.5 17,-48.3 C14.6,-47.1 12.6,-46.2 10.9,-45.6 L10.9,-54.2 C15.6,-56.4 19.8,-59.2 23.4,-62.5 C27,-65.7 29.6,-68.8 31.1,-71.8 L37.3,-71.8 Z" fill="#000" stroke="#000" stroke-width="0.9" vector-effect="non-scaling-stroke" stroke-linejoin="round"/><text x="55.62" y="0" font-size="100" font-weight="normal" stroke="#000" stroke-width="0.9" vector-effect="non-scaling-stroke" stroke-linejoin="round">5</text></g>
<line x1="158.20" y1="864.20" x2="158.20" y2="930.30" stroke-width="2.3" stroke-linecap="butt"/>
<line x1="1199.80" y1="859.70" x2="1199.80" y2="926.10" stroke-width="2.3" stroke-linecap="butt"/>
<line x1="150.20" y1="930.70" x2="166.20" y2="914.70" stroke-width="2.5" stroke-linecap="butt"/>
<line x1="1191.80" y1="926.30" x2="1207.80" y2="910.30" stroke-width="2.5" stroke-linecap="butt"/>
<g transform="translate(654.37,910.52) scale(0.2358,0.3296)"><text x="0.00" y="0" font-size="100" font-weight="normal" stroke="#000" stroke-width="0.9" vector-effect="non-scaling-stroke" stroke-linejoin="round">2</text><text x="55.62" y="0" font-size="100" font-weight="normal" stroke="#000" stroke-width="0.9" vector-effect="non-scaling-stroke" stroke-linejoin="round">0</text><text x="111.23" y="0" font-size="100" font-weight="normal" stroke="#000" stroke-width="0.9" vector-effect="non-scaling-stroke" stroke-linejoin="round">0</text><text x="166.85" y="0" font-size="100" font-weight="normal" stroke="#000" stroke-width="0.9" vector-effect="non-scaling-stroke" stroke-linejoin="round">0</text></g>
<g transform="translate(535.51,1026.82) scale(0.3084,0.4253)"><text x="0.00" y="0" font-size="100" font-weight="normal" stroke="#000" stroke-width="1.5" vector-effect="non-scaling-stroke" stroke-linejoin="round">С</text><text x="72.22" y="0" font-size="100" font-weight="normal" stroke="#000" stroke-width="1.5" vector-effect="non-scaling-stroke" stroke-linejoin="round">х</text><text x="122.22" y="0" font-size="100" font-weight="normal" stroke="#000" stroke-width="1.5" vector-effect="non-scaling-stroke" stroke-linejoin="round">е</text><text x="177.84" y="0" font-size="100" font-weight="normal" stroke="#000" stroke-width="1.5" vector-effect="non-scaling-stroke" stroke-linejoin="round">м</text><text x="246.59" y="0" font-size="100" font-weight="normal" stroke="#000" stroke-width="1.5" vector-effect="non-scaling-stroke" stroke-linejoin="round">а</text><text x="329.98" y="0" font-size="100" font-weight="normal" stroke="#000" stroke-width="1.5" vector-effect="non-scaling-stroke" stroke-linejoin="round">а</text><text x="385.60" y="0" font-size="100" font-weight="normal" stroke="#000" stroke-width="1.5" vector-effect="non-scaling-stroke" stroke-linejoin="round">р</text><text x="441.22" y="0" font-size="100" font-weight="normal" stroke="#000" stroke-width="1.5" vector-effect="non-scaling-stroke" stroke-linejoin="round">м</text><text x="509.97" y="0" font-size="100" font-weight="normal" stroke="#000" stroke-width="1.5" vector-effect="non-scaling-stroke" stroke-linejoin="round">и</text><text x="565.83" y="0" font-size="100" font-weight="normal" stroke="#000" stroke-width="1.5" vector-effect="non-scaling-stroke" stroke-linejoin="round">р</text><text x="621.45" y="0" font-size="100" font-weight="normal" stroke="#000" stroke-width="1.5" vector-effect="non-scaling-stroke" stroke-linejoin="round">о</text><text x="677.06" y="0" font-size="100" font-weight="normal" stroke="#000" stroke-width="1.5" vector-effect="non-scaling-stroke" stroke-linejoin="round">в</text><text x="730.19" y="0" font-size="100" font-weight="normal" stroke="#000" stroke-width="1.5" vector-effect="non-scaling-stroke" stroke-linejoin="round">а</text><text x="785.80" y="0" font-size="100" font-weight="normal" stroke="#000" stroke-width="1.5" vector-effect="non-scaling-stroke" stroke-linejoin="round">н</text><text x="841.03" y="0" font-size="100" font-weight="normal" stroke="#000" stroke-width="1.5" vector-effect="non-scaling-stroke" stroke-linejoin="round">и</text><text x="896.89" y="0" font-size="100" font-weight="normal" stroke="#000" stroke-width="1.5" vector-effect="non-scaling-stroke" stroke-linejoin="round">я</text></g>
<path d="M166.30,1105.20 L196.97,1105.20 L227.64,1105.20 L258.30,1105.20 L288.97,1105.20 L319.64,1105.20 L350.31,1105.20 L380.97,1105.20 L411.64,1105.20 L442.31,1105.20 L472.98,1105.20 L503.64,1105.20 L534.31,1105.20 L564.10,1105.03 L594.77,1104.81 L625.44,1104.60 L656.10,1104.39 L686.77,1104.18 L717.44,1103.97 L748.11,1103.75 L778.78,1103.54 L809.16,1103.31 L839.83,1103.03 L870.50,1102.75 L901.17,1102.47 L931.84,1102.19 L962.50,1101.91 L993.17,1101.63 L1023.84,1101.35 L1054.51,1101.07 L1085.17,1100.79 L1115.84,1100.51 L1146.60,1100.24 L1177.27,1099.98 L1207.94,1099.72 L1208.21,1132.02 L1208.48,1164.32 L1208.75,1196.62 L1209.02,1228.92 L1209.29,1261.22 L1209.56,1293.52 L1209.83,1325.82 L1210.10,1358.12 L1179.43,1358.38 L1148.77,1358.64 L1118.20,1358.91 L1087.53,1359.19 L1056.86,1359.47 L1026.19,1359.75 L995.53,1360.03 L964.86,1360.31 L934.19,1360.59 L903.52,1360.87 L872.86,1361.15 L842.19,1361.43 L811.52,1361.71 L780.56,1361.94 L749.90,1362.15 L719.23,1362.37 L688.56,1362.58 L657.89,1362.79 L627.23,1363.00 L596.56,1363.21 L565.89,1363.43 L534.31,1363.60 L503.64,1363.60 L472.98,1363.60 L442.31,1363.60 L411.64,1363.60 L380.97,1363.60 L350.31,1363.60 L319.64,1363.60 L288.97,1363.60 L258.30,1363.60 L227.64,1363.60 L196.97,1363.60 L166.30,1363.60 L166.30,1331.30 L166.30,1299.00 L166.30,1266.70 L166.30,1234.40 L166.30,1202.10 L166.30,1169.80 L166.30,1137.50 Z" stroke-width="3.0" fill="none" stroke-linejoin="miter"/>
<path d="M179.30,1120.60 L209.99,1120.60 L240.68,1120.60 L271.36,1120.60 L302.05,1120.60 L332.74,1120.60 L363.43,1120.60 L394.12,1120.60 L424.80,1120.60 L455.49,1120.60 L486.18,1120.60 L516.87,1120.60 L546.78,1120.55 L577.47,1120.34 L608.16,1120.12 L638.85,1119.91 L669.53,1119.70 L700.22,1119.49 L730.91,1119.27 L761.60,1119.06 L792.29,1118.85 L822.73,1118.58 L853.42,1118.30 L884.11,1118.02 L914.79,1117.74 L945.48,1117.46 L976.17,1117.18 L1006.86,1116.90 L1037.54,1116.62 L1068.23,1116.35 L1098.92,1116.07 L1129.61,1115.79 L1160.38,1115.52 L1191.07,1115.26 L1191.34,1148.29 L1191.62,1181.32 L1191.90,1214.35 L1192.17,1247.38 L1192.45,1280.41 L1192.73,1313.44 L1193.00,1346.46 L1162.32,1346.72 L1131.72,1346.99 L1101.03,1347.27 L1070.34,1347.55 L1039.65,1347.82 L1008.97,1348.10 L978.28,1348.38 L947.59,1348.66 L916.90,1348.94 L886.21,1349.22 L855.53,1349.50 L824.84,1349.78 L793.89,1350.05 L763.20,1350.26 L732.51,1350.47 L701.82,1350.69 L671.14,1350.90 L640.45,1351.11 L609.76,1351.32 L579.07,1351.54 L548.38,1351.75 L516.87,1351.80 L486.18,1351.80 L455.49,1351.80 L424.80,1351.80 L394.12,1351.80 L363.43,1351.80 L332.74,1351.80 L302.05,1351.80 L271.36,1351.80 L240.68,1351.80 L209.99,1351.80 L179.30,1351.80 L179.30,1318.77 L179.30,1285.74 L179.30,1252.71 L179.30,1219.69 L179.30,1186.66 L179.30,1153.63 Z" stroke-width="3.8" fill="none" stroke-linejoin="miter"/>
<path d="M179.30,1120.60 L209.09,1127.40 L238.87,1134.20 L268.66,1141.00 L298.44,1147.80 L328.23,1154.60 L358.01,1161.40 L387.80,1168.20 L417.58,1175.00 L447.37,1181.80 L477.15,1188.60 L506.94,1195.40 L536.72,1202.20 L566.35,1208.82 L596.18,1215.41 L626.01,1222.00 L655.85,1228.60 L685.68,1235.19 L715.51,1241.79 L745.34,1248.38 L775.18,1254.97 L805.08,1261.56 L834.92,1268.08 L864.77,1274.61 L894.62,1281.14 L924.47,1287.67 L954.31,1294.20 L984.16,1300.73 L1014.01,1307.26 L1043.86,1313.78 L1073.70,1320.31 L1103.55,1326.84 L1133.40,1333.37 L1163.16,1339.91 L1193.00,1346.46" stroke-width="2.8" stroke-linecap="butt"/>
<path d="M179.30,1351.80 L209.09,1345.00 L238.87,1338.20 L268.66,1331.40 L298.44,1324.60 L328.23,1317.80 L358.01,1311.00 L387.80,1304.20 L417.58,1297.40 L447.37,1290.60 L477.15,1283.80 L506.94,1277.00 L536.72,1270.20 L566.73,1263.22 L596.46,1256.21 L626.20,1249.20 L655.94,1242.20 L685.68,1235.19 L715.42,1228.19 L745.16,1221.18 L774.89,1214.17 L804.58,1207.16 L834.30,1200.08 L864.03,1193.01 L893.75,1185.94 L923.47,1178.87 L953.20,1171.80 L982.92,1164.73 L1012.64,1157.66 L1042.37,1150.58 L1072.09,1143.51 L1101.81,1136.44 L1131.54,1129.37 L1161.34,1122.31 L1191.07,1115.26" stroke-width="2.8" stroke-linecap="butt"/>
<line x1="1057.70" y1="1052.40" x2="1132.40" y2="1052.40" stroke-width="2.8" stroke-linecap="butt"/>
<line x1="1057.70" y1="1052.40" x2="865.20" y2="1118.50" stroke-width="2.8" stroke-linecap="butt"/>
<line x1="1057.70" y1="1052.40" x2="595.40" y2="1349.60" stroke-width="2.8" stroke-linecap="butt"/>
<g transform="translate(1086.37,1044.30) scale(0.3788,0.3760)"><path transform="translate(0.00,0)" d="M37.3,0 L28.5,0 L28.5,-56.2 C25.5,-53.4 21.4,-50.5 17,-48.3 C14.6,-47.1 12.6,-46.2 10.9,-45.6 L10.9,-54.2 C15.6,-56.4 19.8,-59.2 23.4,-62.5 C27,-65.7 29.6,-68.8 31.1,-71.8 L37.3,-71.8 Z" fill="#000" stroke="#000" stroke-width="1.0" vector-effect="non-scaling-stroke" stroke-linejoin="round"/></g>
<line x1="110.20" y1="1098.70" x2="111.10" y2="1373.90" stroke-width="2.4" stroke-linecap="butt"/>
<line x1="101.10" y1="1106.00" x2="157.90" y2="1106.00" stroke-width="2.3" stroke-linecap="butt"/>
<line x1="103.00" y1="1364.50" x2="166.30" y2="1364.50" stroke-width="2.3" stroke-linecap="butt"/>
<line x1="102.30" y1="1098.00" x2="118.30" y2="1114.00" stroke-width="2.5" stroke-linecap="butt"/>
<line x1="102.90" y1="1356.50" x2="118.90" y2="1372.50" stroke-width="2.5" stroke-linecap="butt"/>
<g transform="translate(99.90,1254.44) rotate(-90) scale(0.2236,0.3493)"><text x="0.00" y="0" font-size="100" font-weight="normal" stroke="#000" stroke-width="0.9" vector-effect="non-scaling-stroke" stroke-linejoin="round">5</text><text x="55.62" y="0" font-size="100" font-weight="normal" stroke="#000" stroke-width="0.9" vector-effect="non-scaling-stroke" stroke-linejoin="round">0</text><text x="111.23" y="0" font-size="100" font-weight="normal" stroke="#000" stroke-width="0.9" vector-effect="non-scaling-stroke" stroke-linejoin="round">0</text></g>
<line x1="148.20" y1="1064.60" x2="148.40" y2="1129.60" stroke-width="2.4" stroke-linecap="butt"/>
<line x1="140.00" y1="1121.20" x2="180.70" y2="1121.20" stroke-width="2.3" stroke-linecap="butt"/>
<line x1="140.20" y1="1098.00" x2="156.20" y2="1114.00" stroke-width="2.5" stroke-linecap="butt"/>
<line x1="140.30" y1="1113.20" x2="156.30" y2="1129.20" stroke-width="2.5" stroke-linecap="butt"/>
<g transform="translate(140.93,1089.32) rotate(-90) scale(0.2266,0.3228)"><path transform="translate(0.00,0)" d="M37.3,0 L28.5,0 L28.5,-56.2 C25.5,-53.4 21.4,-50.5 17,-48.3 C14.6,-47.1 12.6,-46.2 10.9,-45.6 L10.9,-54.2 C15.6,-56.4 19.8,-59.2 23.4,-62.5 C27,-65.7 29.6,-68.8 31.1,-71.8 L37.3,-71.8 Z" fill="#000" stroke="#000" stroke-width="0.9" vector-effect="non-scaling-stroke" stroke-linejoin="round"/><text x="55.62" y="0" font-size="100" font-weight="normal" stroke="#000" stroke-width="0.9" vector-effect="non-scaling-stroke" stroke-linejoin="round">5</text></g>
<line x1="149.20" y1="1340.00" x2="149.30" y2="1408.00" stroke-width="2.4" stroke-linecap="butt"/>
<line x1="140.30" y1="1351.90" x2="166.30" y2="1351.90" stroke-width="2.3" stroke-linecap="butt"/>
<line x1="141.30" y1="1343.90" x2="157.30" y2="1359.90" stroke-width="2.5" stroke-linecap="butt"/>
<line x1="141.30" y1="1356.50" x2="157.30" y2="1372.50" stroke-width="2.5" stroke-linecap="butt"/>
<g transform="translate(141.21,1401.02) rotate(-90) scale(0.2266,0.3448)"><path transform="translate(0.00,0)" d="M37.3,0 L28.5,0 L28.5,-56.2 C25.5,-53.4 21.4,-50.5 17,-48.3 C14.6,-47.1 12.6,-46.2 10.9,-45.6 L10.9,-54.2 C15.6,-56.4 19.8,-59.2 23.4,-62.5 C27,-65.7 29.6,-68.8 31.1,-71.8 L37.3,-71.8 Z" fill="#000" stroke="#000" stroke-width="0.9" vector-effect="non-scaling-stroke" stroke-linejoin="round"/><text x="55.62" y="0" font-size="100" font-weight="normal" stroke="#000" stroke-width="0.9" vector-effect="non-scaling-stroke" stroke-linejoin="round">5</text></g>
<line x1="168.10" y1="1379.60" x2="168.10" y2="1482.70" stroke-width="2.3" stroke-linecap="butt"/>
<line x1="180.50" y1="1380.40" x2="180.50" y2="1442.00" stroke-width="2.3" stroke-linecap="butt"/>
<line x1="159.80" y1="1434.10" x2="229.60" y2="1434.10" stroke-width="2.4" stroke-linecap="butt"/>
<line x1="160.10" y1="1442.10" x2="176.10" y2="1426.10" stroke-width="2.5" stroke-linecap="butt"/>
<line x1="172.50" y1="1442.10" x2="188.50" y2="1426.10" stroke-width="2.5" stroke-linecap="butt"/>
<g transform="translate(205.10,1425.63) scale(0.2432,0.3214)"><path transform="translate(0.00,0)" d="M37.3,0 L28.5,0 L28.5,-56.2 C25.5,-53.4 21.4,-50.5 17,-48.3 C14.6,-47.1 12.6,-46.2 10.9,-45.6 L10.9,-54.2 C15.6,-56.4 19.8,-59.2 23.4,-62.5 C27,-65.7 29.6,-68.8 31.1,-71.8 L37.3,-71.8 Z" fill="#000" stroke="#000" stroke-width="0.9" vector-effect="non-scaling-stroke" stroke-linejoin="round"/><text x="55.62" y="0" font-size="100" font-weight="normal" stroke="#000" stroke-width="0.9" vector-effect="non-scaling-stroke" stroke-linejoin="round">5</text></g>
<line x1="1193.00" y1="1371.60" x2="1193.00" y2="1435.00" stroke-width="2.3" stroke-linecap="butt"/>
<line x1="1210.00" y1="1371.60" x2="1210.00" y2="1476.40" stroke-width="2.3" stroke-linecap="butt"/>
<line x1="1183.40" y1="1426.20" x2="1252.80" y2="1426.20" stroke-width="2.4" stroke-linecap="butt"/>
<line x1="1185.00" y1="1434.20" x2="1201.00" y2="1418.20" stroke-width="2.5" stroke-linecap="butt"/>
<line x1="1202.00" y1="1434.20" x2="1218.00" y2="1418.20" stroke-width="2.5" stroke-linecap="butt"/>
<g transform="translate(1229.28,1418.04) scale(0.2359,0.3118)"><path transform="translate(0.00,0)" d="M37.3,0 L28.5,0 L28.5,-56.2 C25.5,-53.4 21.4,-50.5 17,-48.3 C14.6,-47.1 12.6,-46.2 10.9,-45.6 L10.9,-54.2 C15.6,-56.4 19.8,-59.2 23.4,-62.5 C27,-65.7 29.6,-68.8 31.1,-71.8 L37.3,-71.8 Z" fill="#000" stroke="#000" stroke-width="0.9" vector-effect="non-scaling-stroke" stroke-linejoin="round"/><text x="55.62" y="0" font-size="100" font-weight="normal" stroke="#000" stroke-width="0.9" vector-effect="non-scaling-stroke" stroke-linejoin="round">5</text></g>
<line x1="159.80" y1="1474.30" x2="1220.30" y2="1467.50" stroke-width="2.3" stroke-linecap="butt"/>
<line x1="160.10" y1="1482.20" x2="176.10" y2="1466.20" stroke-width="2.5" stroke-linecap="butt"/>
<line x1="1202.00" y1="1475.60" x2="1218.00" y2="1459.60" stroke-width="2.5" stroke-linecap="butt"/>
<g transform="translate(664.27,1460.92) scale(0.2353,0.3296)"><text x="0.00" y="0" font-size="100" font-weight="normal" stroke="#000" stroke-width="0.9" vector-effect="non-scaling-stroke" stroke-linejoin="round">2</text><text x="55.62" y="0" font-size="100" font-weight="normal" stroke="#000" stroke-width="0.9" vector-effect="non-scaling-stroke" stroke-linejoin="round">0</text><text x="111.23" y="0" font-size="100" font-weight="normal" stroke="#000" stroke-width="0.9" vector-effect="non-scaling-stroke" stroke-linejoin="round">0</text><text x="166.85" y="0" font-size="100" font-weight="normal" stroke="#000" stroke-width="0.9" vector-effect="non-scaling-stroke" stroke-linejoin="round">0</text></g>
<line x1="1354.50" y1="2.00" x2="1354.50" y2="34.00" stroke-width="2" stroke-linecap="butt"/>
<path d="M1354.5,34 L1354.5,77" stroke-width="2" stroke-dasharray="3 4"/>
<line x1="1352.50" y1="1562.00" x2="1352.50" y2="1571.00" stroke-width="2" stroke-linecap="butt"/>
</svg>
</body></html>
